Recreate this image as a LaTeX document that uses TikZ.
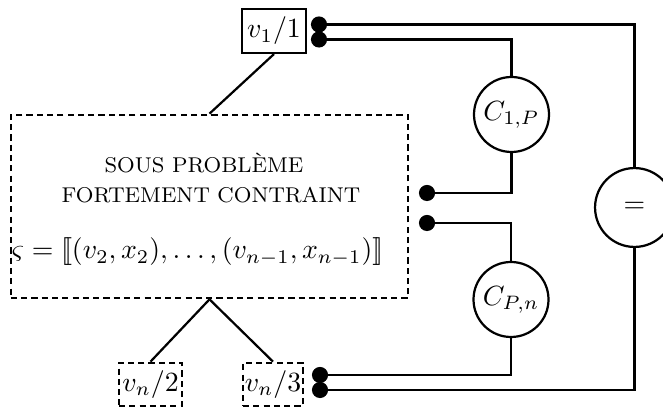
\documentclass[tikz,border=0pt]{standalone}
\begin{document}
\begin{tikzpicture}[x=0.36pt,y=-0.36pt,
  conn/.style={line width=0.8pt},
  solidbox/.style={draw,line width=0.8pt,rectangle,inner sep=0pt},
  dashbox/.style={draw,line width=0.95pt,rectangle,inner sep=0pt,dash pattern=on 2.2pt off 1.5pt},
  cnode/.style={draw,line width=0.8pt,circle,inner sep=0pt,minimum size=27pt},
  dotnode/.style={fill=black,circle,inner sep=0pt,minimum size=5.8pt},
  capstext/.style={font=\fontsize{7.7pt}{9pt}\selectfont},
  formtext/.style={font=\fontsize{9.7pt}{11pt}\selectfont}]
\useasboundingbox (0,0) rectangle (663,408);
% boxes
\node[solidbox,minimum width=23pt,minimum height=15.8pt] (v1) at (274,31) {$v_1/1$};
\node[dashbox,minimum width=143pt,minimum height=65.9pt] (sp) at (209.5,206.5) {};
\node[capstext] (t1) at (204,163) {SOUS PROBLÈME};
\node[capstext] (t2) at (211,195) {FORTEMENT CONTRAINT};
\node[formtext] (t3) at (197.5,252) {$\varsigma=[\![(v_2,x_2),\ldots,(v_{n-1},x_{n-1})]\!]$};
\node[dashbox,minimum width=22.7pt,minimum height=15.5pt] (vn2) at (150.5,384.5) {$v_n/2$};
\node[dashbox,minimum width=21.6pt,minimum height=15.5pt] (vn3) at (273,384.5) {$v_n/3$};
% circles
\node[cnode] (c1p) at (511.5,114.5) {$C_{1,P}$};
\node[cnode] (cpn) at (511,299.5) {$C_{P,n}$};
\node[cnode,minimum size=28.4pt] (eq) at (634.5,207.5) {$=$};
% dots
\node[dotnode] (d1) at (319,24.5) {};
\node[dotnode] (d2) at (319,39.5) {};
\node[dotnode] (d3) at (427,193) {};
\node[dotnode] (d4) at (427,223) {};
\node[dotnode] (d5) at (320,375) {};
\node[dotnode] (d6) at (320,390) {};
% connectors
\draw[conn] (v1.south) -- (sp.north);
\draw[conn] (sp.south) -- (vn2.north);
\draw[conn] (sp.south) -- (vn3.north);
\draw[conn] (d1.center) -| (eq.north);
\draw[conn] (d2.center) -| (c1p.north);
\draw[conn] (c1p.south) |- (d3.center);
\draw[conn] (d4.center) -| (cpn.north);
\draw[conn] (cpn.south) |- (d5.center);
\draw[conn] (d6.center) -| (eq.south);
\end{tikzpicture}
\end{document}
